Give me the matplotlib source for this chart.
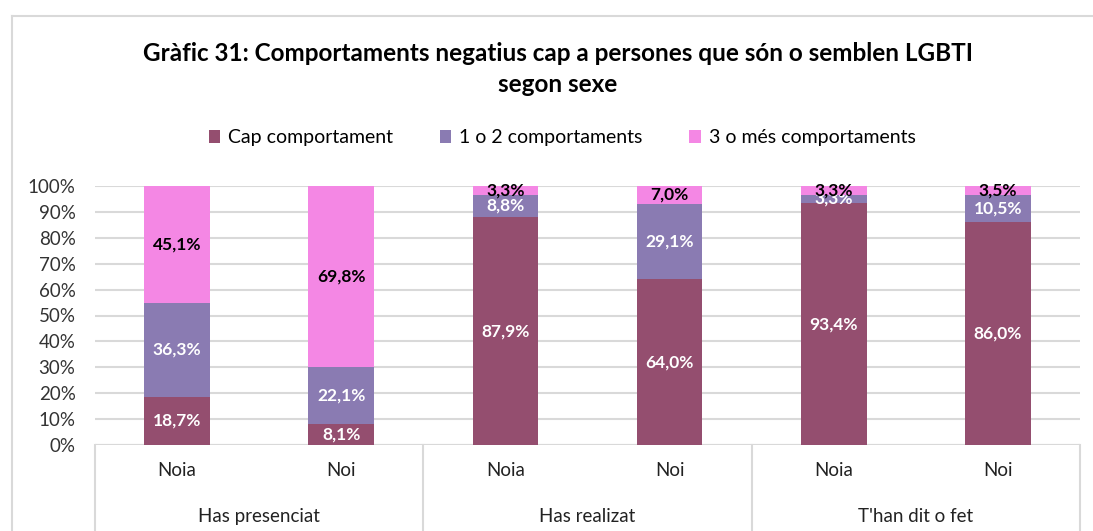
import numpy as np
import matplotlib.pyplot as plt
from matplotlib.lines import Line2D

plt.rcParams['font.family'] = ['Lato', 'DejaVu Sans']

groups = ['Has presenciat', 'Has realizat', "T'han dit o fet"]
sexes = ['Noia', 'Noi']
series = ['Cap comportament', '1 o 2 comportaments', '3 o més comportaments']
cap = [18.7, 8.1, 87.9, 64.0, 93.4, 86.0]
un_dos = [36.3, 22.1, 8.8, 29.1, 3.3, 10.5]
tres = [45.1, 69.8, 3.3, 7.0, 3.3, 3.5]
colors = ['#944E6F', '#8A7BB2', '#F487E4']
label_colors = ['white', 'white', 'black']

fig = plt.figure(figsize=(10.93, 5.31), dpi=100)
ax = fig.add_axes([95/1093, 1-445/531, (1080-95)/1093, (445-186)/531])

x = np.arange(len(cap))
bottom = np.zeros(len(cap))
for vals, name, c, lc in zip([cap, un_dos, tres], series, colors, label_colors):
    bars = ax.bar(x, vals, 0.4, bottom=bottom, color=c, label=name, zorder=3)
    ax.bar_label(bars, labels=[f'{v:.1f}%'.replace('.', ',') for v in vals],
                 label_type='center', color=lc, fontweight='bold', fontsize=12.5)
    bottom += np.array(vals)

ax.set_xlim(-0.5, len(cap) - 0.5)
ax.set_ylim(0, 100)
ax.set_yticks(np.arange(0, 101, 10))
ax.set_yticklabels([f'{t}%' for t in range(0, 101, 10)], fontsize=13.5, color='#333333')
ax.tick_params(axis='y', length=0, pad=14)
ax.set_xticks([])
ax.yaxis.grid(True, color='#D9D9D9', linewidth=1.5, zorder=0)
for s in ax.spines.values():
    s.set_visible(False)
ax.axhline(0, color='#D9D9D9', linewidth=1.5, zorder=1)

# category axis (two levels)
trans = ax.get_xaxis_transform()
for xb in [-0.5, 1.5, 3.5, 5.5]:
    ax.add_line(Line2D([xb, xb], [0, -0.335], transform=trans, color='#D9D9D9',
                       linewidth=1.5, clip_on=False))
for i in x:
    ax.text(i, -0.1, sexes[i % 2], transform=trans, ha='center', va='center',
            fontsize=13.5, color='#222222')
for g, name in enumerate(groups):
    ax.text(2*g + 0.5, -0.275, name, transform=trans, ha='center', va='center',
            fontsize=13.5, color='#222222')

# chart frame
fig.add_artist(Line2D([12/1093, 12/1093], [0, 1-16/531], color='#D9D9D9', linewidth=1.5))
fig.add_artist(Line2D([12/1093, 1], [1-16/531, 1-16/531], color='#D9D9D9', linewidth=1.5))

fig.text(558/1093, 1-69/531,
         'Gràfic 31: Comportaments negatius cap a persones que són o semblen LGBTI\nsegon sexe',
         ha='center', va='center', fontsize=17.5, fontweight='bold', linespacing=1.45)

fig.legend(loc='center', bbox_to_anchor=(562/1093, 1-138/531), ncol=3, frameon=False,
           fontsize=14, handlelength=0.6, handleheight=0.6, handletextpad=0.4,
           columnspacing=2.4)

fig.savefig('out.png', dpi=100)
